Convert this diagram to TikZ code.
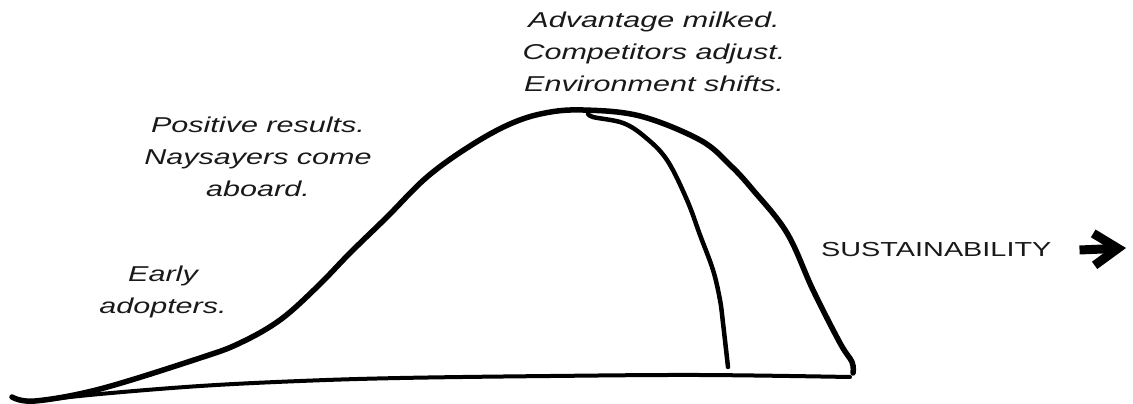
\documentclass[tikz,border=0pt]{standalone}
\usepackage{fontspec}
\setmainfont{Liberation Sans}[FakeStretch=1.42]
\usetikzlibrary{arrows.meta,positioning}

\begin{document}
\begin{tikzpicture}[
  x=1pt, y=-1pt,
  note/.style={
    align=center,
    inner sep=0pt,
    text=black!90,
    font=\fontsize{21.5}{32}\selectfont\itshape
  },
  axisname/.style={
    inner sep=0pt,
    text=black!90,
    font=\fontsize{20.3}{32}\selectfont
  },
  hand/.style={line cap=round, line join=round},
  bigarrow/.style={line width=9pt, -{Straight Barb[length=24pt,width=32pt]}}
]
  \useasboundingbox (0,0) rectangle (1133,404);

  % the curve and its early drop
  \draw[hand, line width=5.5pt] plot[smooth, tension=0.6] coordinates {
    (12,397) (35,401) (100,389) (200,358) (240,343) (280,320) (317,287)
    (350,253) (387,217) (427,177) (470,146) (510,124) (545,113) (583,110)
    (640,116) (700,140) (730,165) (753,190) (787,233) (813,290) (840,343)
    (852,362) (853,373)};
  \draw[hand, line width=4.5pt] plot[smooth, tension=0.6] coordinates {
    (588,113) (593,117) (623,123) (645,137) (667,160) (687,200) (700,235)
    (713,270) (720,300) (723,323) (728,367)};
  \draw[hand, line width=4pt] plot[smooth, tension=0.6] coordinates {
    (35,401) (100,394) (200,386) (300,381) (400,378) (550,376) (700,375)
    (850,377)};

  \node[note] (peak) at (654,52) {Advantage milked.\\Competitors adjust.\\Environment shifts.};
  \node[note] (positive) at (258,157) {Positive results.\\Naysayers come\\aboard.};
  \node[note] (early) at (163,292) {Early\\adopters.};
  \node[axisname, anchor=west] (sust) at (821,250) {SUSTAINABILITY};
  \coordinate (tip) at (1126,248);

  \draw[bigarrow] ([xshift=28pt]sust.east) -- (tip);
\end{tikzpicture}
\end{document}
